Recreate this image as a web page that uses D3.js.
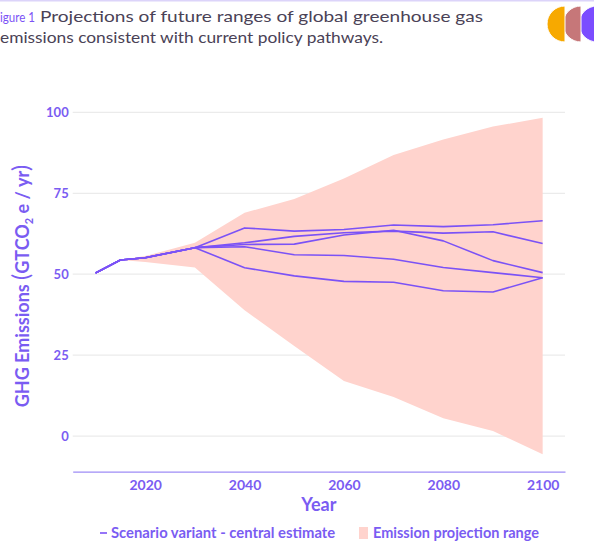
<!DOCTYPE html>
<html>
<head>
<meta charset="utf-8">
<script src="https://cdn.jsdelivr.net/npm/d3@7"></script>
<style>
  body { margin: 0; background: #fff; }
  svg { display: block; font-family: Lato, "Open Sans", sans-serif; }
</style>
</head>
<body>
<div id="chart"></div>
<script>
// Data
const years = [2010, 2015, 2020, 2030, 2040, 2050, 2060, 2070, 2080, 2090, 2100];
const scenarioA = [50.4, 54.4, 55.1, 58.2, 64.3, 63.3, 63.8, 65.2, 64.7, 65.3, 66.5];
const scenarioB = [50.4, 54.4, 55.1, 58.2, 59.7, 61.7, 62.8, 63.3, 62.7, 63.1, 59.5];
const scenarioC = [50.4, 54.4, 55.1, 58.2, 59.2, 59.3, 62.1, 63.6, 60.3, 54.2, 50.5];
const scenarioD = [50.4, 54.4, 55.1, 58.2, 58.5, 56.0, 55.8, 54.6, 52.1, 50.5, 48.9];
const scenarioE = [50.4, 54.4, 55.1, 58.2, 52.0, 49.5, 47.8, 47.5, 44.9, 44.5, 48.9];

const rangeYears = [2015, 2020, 2030, 2040, 2050, 2060, 2070, 2080, 2090, 2100];
const rangeUpper = [54.4, 55.6, 59.7, 69.0, 73.2, 79.6, 86.8, 91.6, 95.6, 98.3];
const rangeLower = [54.4, 53.8, 52.1, 38.9, 27.8, 17.0, 12.1, 5.5, 1.6, -5.6];

const xTicks = [2020, 2040, 2060, 2080, 2100];
const yTicks = [0, 25, 50, 75, 100];

const width = 594, height = 552;
const purple = '#7b52f6';
const labelColor = '#7a5cf2';

const svg = d3.select('#chart').append('svg')
    .attr('width', width)
    .attr('height', height);

// Thin border line on top
svg.append('rect')
    .attr('x', 0).attr('y', 0)
    .attr('width', width).attr('height', 1.5)
    .attr('fill', '#dcd4fa');

// Title (pieces stretched to the widths in the figure)
const titleFont = 'Lato, sans-serif';
svg.append('text')
    .attr('x', 0).attr('y', 22)
    .attr('font-family', titleFont)
    .attr('font-size', 13.5)
    .attr('fill', purple)
    .attr('textLength', 35)
    .attr('lengthAdjust', 'spacingAndGlyphs')
    .text('igure 1');
svg.append('text')
    .attr('x', 40).attr('y', 22)
    .attr('font-family', titleFont)
    .attr('font-size', 15)
    .attr('fill', '#4a4256')
    .attr('textLength', 443)
    .attr('lengthAdjust', 'spacingAndGlyphs')
    .text('Projections of future ranges of global greenhouse gas');
svg.append('text')
    .attr('x', 0).attr('y', 43)
    .attr('font-family', titleFont)
    .attr('font-size', 15)
    .attr('fill', '#4a4256')
    .attr('textLength', 383)
    .attr('lengthAdjust', 'spacingAndGlyphs')
    .text('emissions consistent with current policy pathways.');

// Logo: three overlapping half discs
const logo = [
    { cx: 597, color: '#7b4dff' },
    { cx: 581, color: '#c67779' },
    { cx: 565, color: '#f7a900' }
];
const halfDisc = d3.arc().innerRadius(0).outerRadius(18)
    .startAngle(Math.PI).endAngle(2 * Math.PI);
svg.selectAll('path.logo')
    .data(logo)
    .join('path')
    .attr('class', 'logo')
    .attr('transform', d => `translate(${d.cx},24)`)
    .attr('fill', d => d.color)
    .attr('stroke', '#fff')
    .attr('stroke-width', 1)
    .attr('d', halfDisc);

// Scales
const x = d3.scaleLinear()
    .domain([2005.4, 2104.5])
    .range([72.7, 565]);
const y = d3.scaleLinear()
    .domain([-11, 104])
    .range([471.7, 99.4]);

// Grid
svg.append('g')
    .selectAll('line')
    .data(yTicks)
    .join('line')
    .attr('x1', x.range()[0])
    .attr('x2', x.range()[1])
    .attr('y1', d => y(d))
    .attr('y2', d => y(d))
    .attr('stroke', '#ebebeb')
    .attr('stroke-width', 1.2);

// Emission projection range
const area = d3.area()
    .x((d, i) => x(rangeYears[i]))
    .y0((d, i) => y(rangeLower[i]))
    .y1(d => y(d));
svg.append('path')
    .datum(rangeUpper)
    .attr('fill', '#ffd3cd')
    .attr('d', area);

// Scenario lines
const line = d3.line()
    .x((d, i) => x(years[i]))
    .y(d => y(d));
svg.append('g')
    .selectAll('path')
    .data([scenarioA, scenarioB, scenarioC, scenarioD, scenarioE])
    .join('path')
    .attr('fill', 'none')
    .attr('stroke', purple)
    .attr('stroke-width', 1.6)
    .attr('stroke-linejoin', 'round')
    .attr('d', line);

// X axis
const xAxis = svg.append('g')
    .attr('transform', `translate(0,${y.range()[0]})`)
    .call(d3.axisBottom(x).tickValues(xTicks).tickFormat(d3.format('d')).tickSize(0).tickPadding(8));
xAxis.select('.domain').attr('stroke', '#9e8cf6').attr('stroke-width', 1.2);
xAxis.selectAll('text')
    .attr('fill', labelColor)
    .attr('font-size', 14)
    .attr('font-weight', 700)
    .attr('font-family', 'Lato, sans-serif');

// Y axis labels
const yAxis = svg.append('g')
    .attr('transform', `translate(${x.range()[0]},0)`)
    .call(d3.axisLeft(y).tickValues(yTicks).tickSize(0).tickPadding(4));
yAxis.select('.domain').remove();
yAxis.selectAll('text')
    .attr('fill', labelColor)
    .attr('font-size', 13)
    .attr('font-weight', 700)
    .attr('font-family', 'Lato, sans-serif');

// Axis titles
svg.append('text')
    .attr('x', (x.range()[0] + x.range()[1]) / 2)
    .attr('y', 511)
    .attr('text-anchor', 'middle')
    .attr('fill', labelColor)
    .attr('font-size', 18)
    .attr('font-weight', 700)
    .text('Year');

const yTitle = svg.append('text')
    .attr('transform', 'translate(29,286) rotate(-90)')
    .attr('text-anchor', 'middle')
    .attr('fill', labelColor)
    .attr('font-size', 18)
    .attr('font-weight', 700);
yTitle.append('tspan').text('GHG Emissions ');
yTitle.append('tspan').attr('font-size', 23).attr('font-weight', 400).text('(');
yTitle.append('tspan').text('GTCO');
yTitle.append('tspan').attr('font-size', 11).attr('dy', 4).text('2');
yTitle.append('tspan').attr('dy', -4).text(' e / yr');
yTitle.append('tspan').attr('font-size', 23).attr('font-weight', 400).text(')');

// Legend
const legend = svg.append('g')
    .attr('font-size', 14.8)
    .attr('font-weight', 700)
    .attr('fill', labelColor);
legend.append('line')
    .attr('x1', 100).attr('x2', 107)
    .attr('y1', 533).attr('y2', 533)
    .attr('stroke', purple).attr('stroke-width', 1.6);
legend.append('text')
    .attr('x', 111).attr('y', 538)
    .text('Scenario variant - central estimate');
legend.append('rect')
    .attr('x', 359).attr('y', 527)
    .attr('width', 9).attr('height', 12)
    .attr('fill', '#ffd3cd');
legend.append('text')
    .attr('x', 373).attr('y', 538)
    .attr('textLength', 166)
    .attr('lengthAdjust', 'spacingAndGlyphs')
    .text('Emission projection range');
</script>
</body>
</html>
